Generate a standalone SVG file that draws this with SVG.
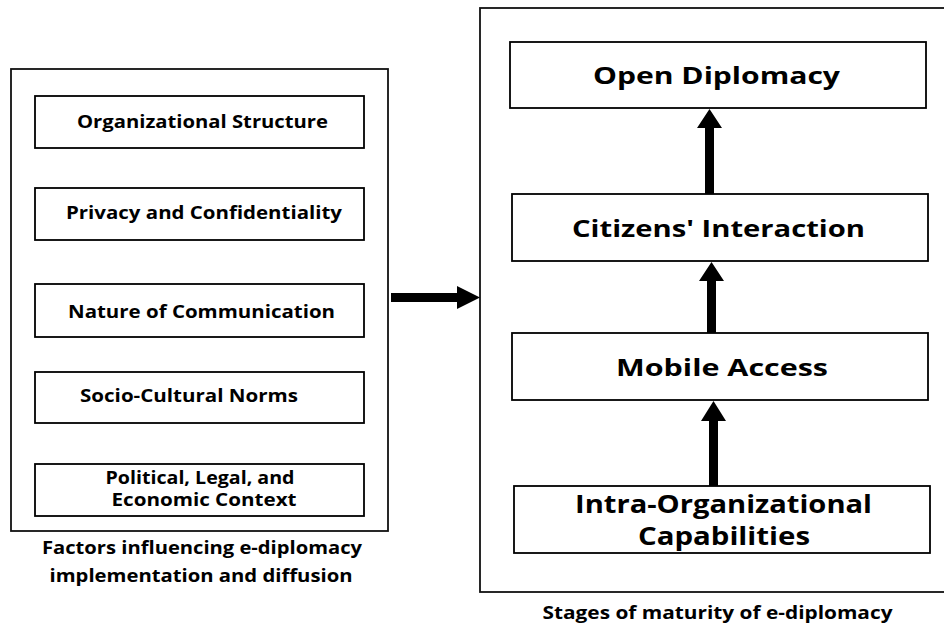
<svg xmlns="http://www.w3.org/2000/svg" width="944" height="623" viewBox="0 0 944 623">
<style>
.box{fill:#fff;stroke:#000;stroke-width:1.8}
.frame{fill:none;stroke:#111;stroke-width:1.8}
text{font-family:"Open Sans","Liberation Sans",sans-serif;font-weight:bold;fill:#000;text-anchor:middle}
.s{font-size:17px}
.c{font-size:18px}
.m{font-size:24px}
.l{font-size:25px}
.arrow{fill:#000;stroke:none}
</style>
<rect width="944" height="623" fill="#fff"/>
<g id="factors">
<rect class="frame" x="11" y="69" width="377" height="462"/>
<text class="c" x="202" y="554" textLength="320" lengthAdjust="spacingAndGlyphs">Factors influencing e-diplomacy</text>
<text class="c" x="201" y="582" textLength="303" lengthAdjust="spacingAndGlyphs">implementation and diffusion</text>
</g>
<g id="f1"><rect class="box" x="35" y="96" width="329" height="52"/><text class="s" x="202.5" y="128" textLength="251" lengthAdjust="spacingAndGlyphs">Organizational Structure</text></g>
<g id="f2"><rect class="box" x="35" y="188" width="329" height="52"/><text class="s" x="204" y="219" textLength="276" lengthAdjust="spacingAndGlyphs">Privacy and Confidentiality</text></g>
<g id="f3"><rect class="box" x="35" y="284" width="329" height="53"/><text class="s" x="201.5" y="318" textLength="267" lengthAdjust="spacingAndGlyphs">Nature of Communication</text></g>
<g id="f4"><rect class="box" x="35" y="372" width="329" height="51"/><text class="s" x="189" y="402" textLength="218" lengthAdjust="spacingAndGlyphs">Socio-Cultural Norms</text></g>
<g id="f5"><rect class="box" x="35" y="464" width="329" height="52"/><text class="s" x="200" y="484" textLength="189" lengthAdjust="spacingAndGlyphs">Political, Legal, and</text><text class="s" x="204" y="506" textLength="185" lengthAdjust="spacingAndGlyphs">Economic Context</text></g>
<g id="stages">
<rect class="frame" x="480" y="8" width="480" height="584"/>
<text class="c" x="717.5" y="619" textLength="350" lengthAdjust="spacingAndGlyphs">Stages of maturity of e-diplomacy</text>
</g>
<g id="s4"><rect class="box" x="510" y="42" width="416" height="66"/><text class="m" x="716.5" y="84" textLength="247" lengthAdjust="spacingAndGlyphs">Open Diplomacy</text></g>
<g id="s3"><rect class="box" x="512" y="194" width="416" height="67"/><text class="m" x="718.5" y="237" textLength="293" lengthAdjust="spacingAndGlyphs">Citizens' Interaction</text></g>
<g id="s2"><rect class="box" x="512" y="333" width="416" height="67"/><text class="m" x="722" y="376" textLength="212" lengthAdjust="spacingAndGlyphs">Mobile Access</text></g>
<g id="s1"><rect class="box" x="514" y="486" width="416" height="67"/><text class="l" x="723.5" y="513" textLength="297" lengthAdjust="spacingAndGlyphs">Intra-Organizational</text><text class="l" x="724" y="545" textLength="172" lengthAdjust="spacingAndGlyphs">Capabilities</text></g>
<g id="connectors">
<path class="arrow" d="M391 293 H457 V286 L480 297.5 L457 309 V302 H391 Z"/>
<path class="arrow" d="M709.5 109 L722 128 H714 V194 H705 V128 H697 Z"/>
<path class="arrow" d="M711.5 262 L724 281 H716 V333 H707 V281 H699 Z"/>
<path class="arrow" d="M713.5 401 L726 421 H718 V486 H709 V421 H701 Z"/>
</g>
</svg>
